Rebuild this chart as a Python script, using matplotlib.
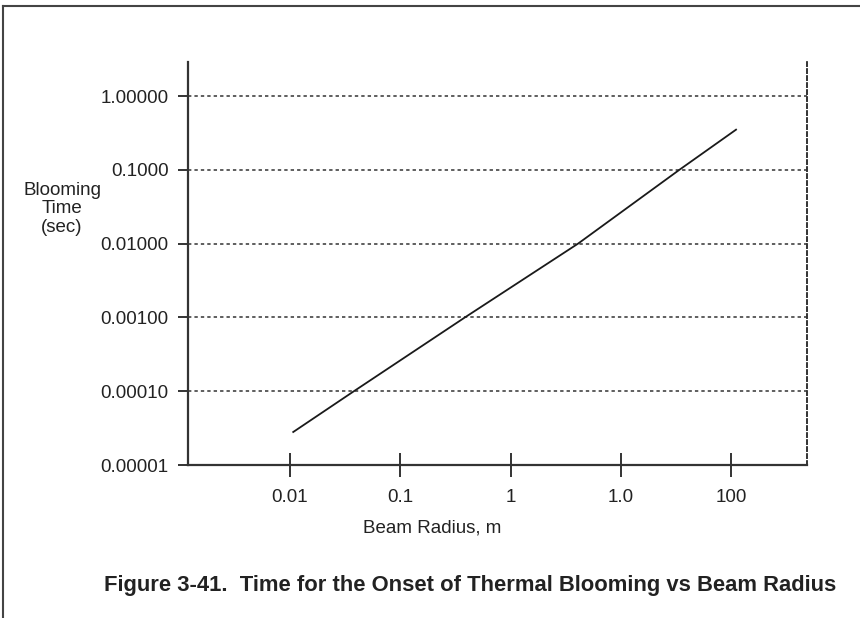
import matplotlib
matplotlib.use("Agg")
import matplotlib.pyplot as plt
from matplotlib.lines import Line2D
from matplotlib.ticker import FixedLocator, FixedFormatter, NullLocator

plt.rcParams['font.family'] = ['Liberation Sans', 'DejaVu Sans']

# Data
beam_radius = [0.0107, 0.038, 0.386, 4.1, 34, 111]
blooming_time = [2.8e-5, 1e-4, 1e-3, 1e-2, 0.1, 0.35]

x_tick_pos = [0.01, 0.1, 1, 10, 100]
x_tick_labels = ["0.01", "0.1", "1", "1.0", "100"]
y_tick_pos = [1e-5, 1e-4, 1e-3, 1e-2, 1e-1, 1]
y_tick_labels = ["0.00001", "0.00010", "0.00100", "0.01000", "0.1000", "1.00000"]

W, H = 860, 618
fig = plt.figure(figsize=(W / 100, H / 100), dpi=100)
L, R, T, B = 188, 807, 62, 465
ax = fig.add_axes([L / W, 1 - B / H, (R - L) / W, (B - T) / H])

ax.set_xscale('log')
ax.set_yscale('log')
ax.set_xlim(10 ** -2.925, 10 ** 2.689)
ax.set_ylim(1e-5, 10 ** 0.461)

# gridlines
for yv in y_tick_pos[1:]:
    ax.axhline(yv, color='#333333', lw=1.1, ls=(0, (2.2, 2.0)), zorder=1)

ax.plot(beam_radius, blooming_time, color='#1a1a1a', lw=1.3, zorder=3)

ax.spines['top'].set_visible(False)
for s in ['left', 'bottom', 'right']:
    ax.spines[s].set_color('#333333')
    ax.spines[s].set_linewidth(1.6)
ax.spines['right'].set_linewidth(1.4)
ax.spines['right'].set_linestyle((0, (2.0, 1.6)))

ax.xaxis.set_major_locator(FixedLocator(x_tick_pos))
ax.xaxis.set_major_formatter(FixedFormatter(x_tick_labels))
ax.xaxis.set_minor_locator(NullLocator())
ax.yaxis.set_major_locator(FixedLocator(y_tick_pos))
ax.yaxis.set_major_formatter(FixedFormatter(y_tick_labels))
ax.yaxis.set_minor_locator(NullLocator())

ax.tick_params(axis='x', direction='inout', length=17, width=1.4, color='#333333',
               labelsize=13.5, pad=9, labelcolor='#222222')
ax.tick_params(axis='y', direction='out', length=7.5, width=1.4, color='#333333',
               labelsize=13.5, pad=6.5, labelcolor='#222222')

ax.text((432 - L) / (R - L), -(528 - B) / (B - T), "Beam Radius, m",
        transform=ax.transAxes, ha='center', va='center', fontsize=13.5, color='#222222')

fig.text(62 / W, 1 - 209 / H, "Blooming\nTime\n(sec)", ha='center', va='center',
         fontsize=13.5, color='#222222', linespacing=1.12)

fig.text(470 / W, 1 - 585 / H,
         "Figure 3-41.  Time for the Onset of Thermal Blooming vs Beam Radius",
         ha='center', va='center', fontsize=15.8, fontweight='bold', color='#222222')

# page frame (left and top)
fig.add_artist(Line2D([2.5 / W, 2.5 / W], [0, 1 - 6 / H], transform=fig.transFigure,
                      color='#444444', lw=1.5))
fig.add_artist(Line2D([2.5 / W, 1], [1 - 6 / H, 1 - 6 / H], transform=fig.transFigure,
                      color='#444444', lw=1.5))

fig.savefig("out.png", dpi=100)
